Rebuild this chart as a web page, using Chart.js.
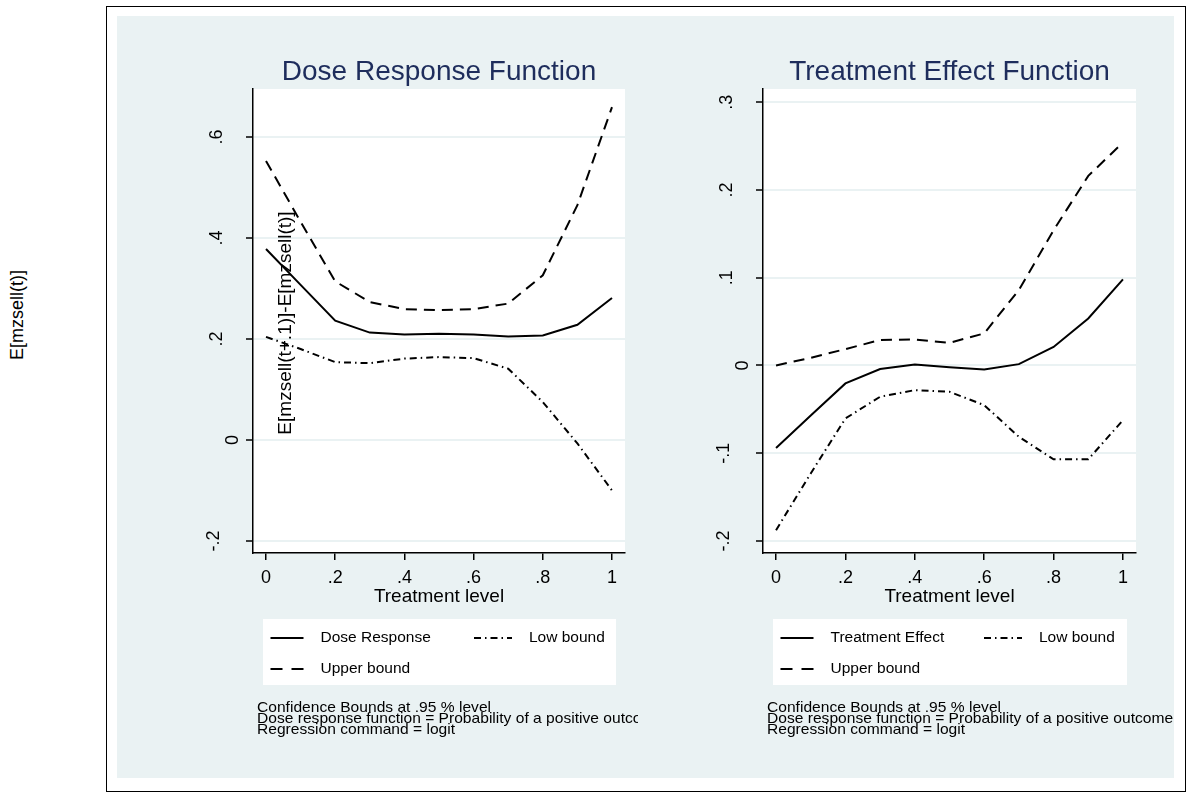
<!DOCTYPE html>
<html>
<head>
<meta charset="utf-8">
<script src="https://cdn.jsdelivr.net/npm/chart.js@4.4.1/dist/chart.umd.min.js"></script>
<style>
  body { margin: 0; width: 1187px; height: 793px; background: #fff; position: relative; overflow: hidden;
         font-family: "Liberation Sans", Arial, sans-serif; }
  #frame { position: absolute; left: 106px; top: 6px; width: 1080px; height: 786px; border: 1.5px solid #000; box-sizing: border-box; }
  #panel { position: absolute; left: 117px; top: 16px; width: 1057px; height: 762px; background: #eaf2f3; }
  canvas { position: absolute; top: 16px; }
  #leftCanvas { left: 117px; }
  #rightCanvas { left: 638px; }
  #outerLabel { position: absolute; left: 17px; top: 315px; transform: translate(-50%, -50%) rotate(-90deg);
                font-size: 18px; white-space: nowrap; color: #000; }
</style>
</head>
<body>
<div id="frame"></div>
<div id="panel"></div>
<div id="outerLabel">E[mzsell(t)]</div>
<canvas id="leftCanvas" width="521" height="762"></canvas>
<canvas id="rightCanvas" width="536" height="762"></canvas>
<script>
// treatment levels on the x axis
const treatLevels = [0, 0.1, 0.2, 0.3, 0.4, 0.5, 0.6, 0.7, 0.8, 0.9, 1];
const xTicks = [0, 0.2, 0.4, 0.6, 0.8, 1];

// dose response panel
const doseResponse = [0.378, 0.307, 0.236, 0.2125, 0.209, 0.21, 0.209, 0.205, 0.207, 0.228, 0.281];
const doseLow = [0.204, 0.18, 0.154, 0.152, 0.161, 0.164, 0.162, 0.141, 0.075, -0.007, -0.1];
const doseUpper = [0.5525, 0.432, 0.314, 0.273, 0.259, 0.257, 0.259, 0.27, 0.326, 0.465, 0.659];
const doseTicks = [-0.2, 0, 0.2, 0.4, 0.6];

// treatment effect panel
const effect = [-0.094, -0.057, -0.0205, -0.004, 0.001, -0.002, -0.0046, 0.0015, 0.021, 0.0536, 0.098];
const effectLow = [-0.1877, -0.123, -0.0604, -0.0357, -0.0281, -0.03, -0.0452, -0.0813, -0.107, -0.107, -0.0623];
const effectUpper = [0, 0.0087, 0.0186, 0.029, 0.0296, 0.0258, 0.0365, 0.086, 0.154, 0.216, 0.254];
const effectTicks = [-0.2, -0.1, 0, 0.1, 0.2, 0.3];

const notes = [
  'Confidence Bounds at .95 % level',
  'Dose response function = Probability of a positive outcome',
  'Regression command = logit'
];

const FONT = '"Liberation Sans", Arial, sans-serif';
const LOW_DASH = [7, 4, 1.5, 4];
const UP_DASH = [11, 7];

const pts = (ys) => treatLevels.map((x, i) => ({ x, y: ys[i] }));
const fmt = (v) => {
  if (Math.abs(v) < 1e-9) return '0';
  const s = String(Math.abs(Math.round(v * 10) / 10)).replace(/^0/, '');
  return (v < 0 ? '-' : '') + s;
};

function sample(ctx, x1, x2, y, dash) {
  ctx.save();
  ctx.strokeStyle = '#000';
  ctx.lineWidth = 2;
  ctx.setLineDash(dash);
  ctx.beginPath();
  ctx.moveTo(x1, y);
  ctx.lineTo(x2, y);
  ctx.stroke();
  ctx.restore();
}

function drawDecor(chart, cfg) {
  const ctx = chart.ctx;
  const ca = chart.chartArea;
  const xs = chart.scales.x;
  const ys = chart.scales.y;
  ctx.save();

  // title
  ctx.fillStyle = '#1e2d5c';
  ctx.font = '28px ' + FONT;
  ctx.textAlign = 'center';
  ctx.textBaseline = 'middle';
  ctx.fillText(cfg.title, (ca.left + ca.right) / 2, ca.top - 17);

  // x tick labels and title
  ctx.fillStyle = '#000';
  ctx.font = '18px ' + FONT;
  xTicks.forEach((v) => ctx.fillText(fmt(v), xs.getPixelForValue(v), ca.bottom + 25));
  ctx.font = '19px ' + FONT;
  ctx.fillText('Treatment level', (ca.left + ca.right) / 2, ca.bottom + 44);

  // y tick labels, rotated
  ctx.font = '18px ' + FONT;
  ctx.textBaseline = 'alphabetic';
  cfg.yTicks.forEach((v) => {
    const lab = fmt(v);
    const gap = lab === '0' ? 8 : (v < 0 ? 27 : 24);
    ctx.save();
    ctx.translate(ca.left - 7 - gap, ys.getPixelForValue(v));
    ctx.rotate(-Math.PI / 2);
    ctx.fillText(lab, 0, 0);
    ctx.restore();
  });

  // stray rotated label inside the left panel
  if (cfg.innerLabel) {
    ctx.save();
    ctx.font = '19px ' + FONT;
    ctx.translate(ca.left + 38, ca.top + 234);
    ctx.rotate(-Math.PI / 2);
    ctx.fillText(cfg.innerLabel, 0, 0);
    ctx.restore();
  }

  // legend box
  const bx = ca.left + 10, by = ca.bottom + 66, bw = ca.width - 19, bh = 66;
  ctx.fillStyle = '#fff';
  ctx.fillRect(bx, by, bw, bh);
  ctx.fillStyle = '#000';
  ctx.font = '15.5px ' + FONT;
  ctx.textAlign = 'left';
  ctx.textBaseline = 'middle';
  sample(ctx, bx + 7.5, bx + 40.5, by + 19, []);
  ctx.fillText(cfg.mainName, bx + 57.5, by + 19);
  sample(ctx, bx + 211, bx + 249, by + 19, LOW_DASH);
  ctx.fillText('Low bound', bx + 266, by + 19);
  sample(ctx, bx + 7.5, bx + 40.5, by + 50, [12, 9]);
  ctx.fillText('Upper bound', bx + 57.5, by + 50);

  // notes
  ctx.save();
  ctx.translate(ca.left + 4, ca.bottom + 155);
  ctx.scale(1, 0.88);
  ctx.font = '15.6px ' + FONT;
  notes.forEach((t, i) => ctx.fillText(t, 0, i * 12.6));
  ctx.restore();

  ctx.restore();
}

function buildChart(id, cfg) {
  const line = (label, ys, dash) => ({
    label, data: pts(ys), borderColor: '#000', borderWidth: 2, borderDash: dash,
    pointRadius: 0, tension: 0, fill: false
  });
  return new Chart(document.getElementById(id), {
    type: 'line',
    data: {
      datasets: [
        line(cfg.mainName, cfg.main, []),
        line('Low bound', cfg.low, LOW_DASH),
        line('Upper bound', cfg.upper, UP_DASH)
      ]
    },
    options: {
      responsive: false,
      animation: false,
      devicePixelRatio: 1,
      layout: { padding: { top: 73, right: cfg.padRight, bottom: 0, left: 0 } },
      plugins: { legend: { display: false }, tooltip: { enabled: false }, title: { display: false } },
      scales: {
        x: {
          type: 'linear', min: -0.0376, max: 1.0376,
          afterBuildTicks: (s) => { s.ticks = xTicks.map((v) => ({ value: v })); },
          afterFit: (s) => { s.height = 225; },
          grid: { drawOnChartArea: false, drawTicks: true, tickLength: 7, color: '#000', lineWidth: 1.5 },
          border: { color: '#000', width: 1.5 },
          ticks: { display: false }
        },
        y: {
          type: 'linear', min: cfg.yMin, max: cfg.yMax,
          afterBuildTicks: (s) => { s.ticks = cfg.yTicks.map((v) => ({ value: v })); },
          afterFit: (s) => { s.width = cfg.axisWidth; },
          grid: { color: '#eaf2f3', lineWidth: 2, tickColor: '#000', tickWidth: 1.5, tickLength: 7 },
          border: { color: '#000', width: 1.5 },
          ticks: { display: false }
        }
      }
    },
    plugins: [{
      id: 'stataDecor',
      beforeDraw(chart) {
        const ca = chart.chartArea;
        chart.ctx.save();
        chart.ctx.fillStyle = '#fff';
        chart.ctx.fillRect(ca.left, ca.top, ca.width, ca.height);
        chart.ctx.restore();
      },
      afterDraw(chart) { drawDecor(chart, cfg); }
    }]
  });
}

buildChart('leftCanvas', {
  title: 'Dose Response Function', mainName: 'Dose Response',
  main: doseResponse, low: doseLow, upper: doseUpper,
  yTicks: doseTicks, yMin: -0.224, yMax: 0.695,
  axisWidth: 136, padRight: 13,
  innerLabel: 'E[mzsell(t+.1)]-E[mzsell(t)]'
});

buildChart('rightCanvas', {
  title: 'Treatment Effect Function', mainName: 'Treatment Effect',
  main: effect, low: effectLow, upper: effectUpper,
  yTicks: effectTicks, yMin: -0.2137, yMax: 0.315,
  axisWidth: 125, padRight: 38,
  innerLabel: null
});
</script>
</body>
</html>
